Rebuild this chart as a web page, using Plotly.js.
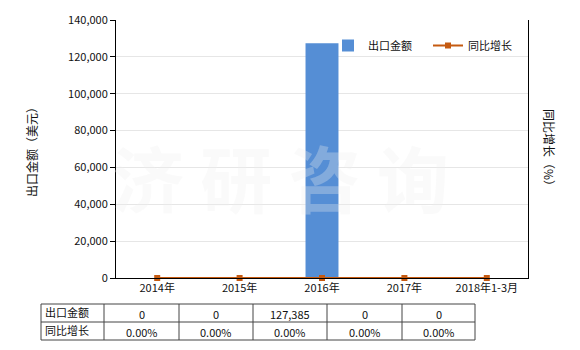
<!DOCTYPE html>
<html><head><meta charset="utf-8">
<script src="https://cdn.plot.ly/plotly-3.0.1.min.js"></script>
<style>body{margin:0;background:#fff}#c{width:580px;height:350px}</style>
</head><body><div id="c"></div>
<script>
const categories = ["2014年","2015年","2016年","2017年","2018年1-3月"];
const exportValues = [0, 0, 127385, 0, 0];
const growthValues = [0, 0, 0, 0, 0];
const exportLabels = ["0","0","127,385","0","0"];
const growthLabels = ["0.00%","0.00%","0.00%","0.00%","0.00%"];
const seriesNames = ["出口金额","同比增长"];

const FONT = "Tahoma, 'Noto Sans CJK SC', 'DejaVu Sans', sans-serif";
const W = 580, H = 350;
const L = 116, R = 528, T = 20, B = 278;
// pixel -> paper (relative to plot area) for overlay items
const px = v => (v - L) / (R - L), py = v => (B - v) / (B - T);

const traces = [
  {type:'bar', x:categories, y:exportValues, name:seriesNames[0], width:0.4,
   marker:{color:'#558ED5'}, yaxis:'y'},
  {type:'scatter', mode:'lines+markers', x:categories, y:growthValues, name:seriesNames[1],
   line:{color:'#C55A11', width:2}, marker:{symbol:'square', size:6, color:'#C55A11'}, yaxis:'y2', cliponaxis:false}
];

// table overlay built from data arrays
const colX = [41,104,179,253,327,402,475];
const rowY = [304,322,340];
const shapes = [];
colX.forEach(x => shapes.push({type:'line', xref:'paper', yref:'paper', x0:px(x), x1:px(x), y0:py(rowY[0]), y1:py(rowY[2]), line:{color:'#444', width:1}}));
rowY.forEach(y => shapes.push({type:'line', xref:'paper', yref:'paper', x0:px(colX[0]), x1:px(colX[6]), y0:py(y), y1:py(y), line:{color:'#444', width:1}}));

const annotations = [];
const rows = [[seriesNames[0], exportLabels],[seriesNames[1], growthLabels]];
rows.forEach((r, i) => {
  const yc = (rowY[i] + rowY[i+1]) / 2;
  annotations.push({xref:'paper', yref:'paper', x:px(colX[0]+2), y:py(yc-1), text:r[0], showarrow:false, xanchor:'left', yanchor:'middle', font:{family:FONT, size:11, color:'#111'}});
  r[1].forEach((t, j) => {
    annotations.push({xref:'paper', yref:'paper', x:px((colX[j+1]+colX[j+2])/2), y:py(yc+1), text:t, showarrow:false, xanchor:'center', yanchor:'middle', font:{family:FONT, size:11, color:'#111'}});
  });
});
// watermark
annotations.push({xref:'paper', yref:'paper', x:px(280), y:py(175), text:'济 研 咨 询', showarrow:false, xanchor:'center', yanchor:'middle', font:{family:"'Noto Sans CJK SC'", size:72, color:'rgba(240,240,240,0.3)', weight:700}});
// right axis title
annotations.push({xref:'paper', yref:'paper', x:px(550), y:py(150), text:'同比增长（%）', showarrow:false, textangle:90, xanchor:'center', yanchor:'middle', font:{family:FONT, size:12, color:'#111'}});

const layout = {
  width:W, height:H, paper_bgcolor:'#fff', plot_bgcolor:'#fff',
  margin:{l:L, r:W-R, t:T, b:H-B, autoexpand:false},
  showlegend:true,
  legend:{orientation:'h', x:px(328), y:py(31), xanchor:'left', yanchor:'top', entrywidth:55, font:{family:FONT, size:11, color:'#111'}, bgcolor:'rgba(0,0,0,0)', traceorder:'normal'},
  font:{family:FONT, size:11, color:'#111'},
  xaxis:{type:'category', showline:true, linecolor:'#000', linewidth:1, ticks:'', tickfont:{family:FONT, size:11, color:'#111'}, fixedrange:true, automargin:false},
  yaxis:{range:[0,140000], tickvals:[0,20000,40000,60000,80000,100000,120000,140000], tickformat:',d', showline:true, linecolor:'#000', linewidth:1, ticks:'outside', ticklen:5, tickcolor:'#000', gridcolor:'#e6e6e6', zeroline:false, automargin:false, tickfont:{family:FONT, size:11, color:'#111'},
    title:{text:'出口金额（美元）', font:{family:FONT, size:12, color:'#111'}, standoff:27}},
  yaxis2:{overlaying:'y', side:'right', range:[0,1], showticklabels:false, showline:true, linecolor:'#000', linewidth:1, showgrid:false, zeroline:false, ticks:''},
  shapes:shapes, annotations:annotations, bargap:0.6
};
Plotly.newPlot('c', traces, layout, {displayModeBar:false, staticPlot:true});
</script></body></html>
